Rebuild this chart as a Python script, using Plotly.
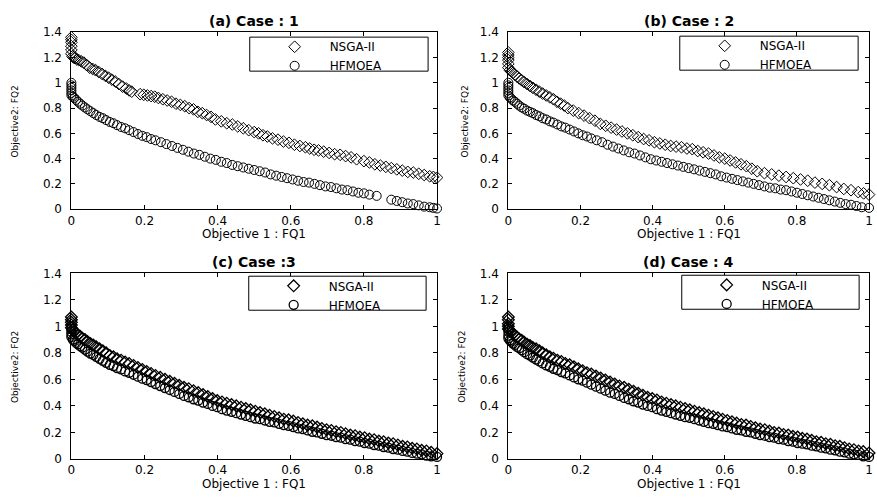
import plotly.graph_objects as go

# ---------------- data ----------------
# Case 1
A_NSGA_X = [0, 0, 0, 0, 0, 0, 0.003, 0.006, 0.01, 0.015, 0.02, 0.027, 0.034, 0.042, 0.05, 0.058, 0.066, 0.075,
            0.084, 0.093, 0.102, 0.111, 0.12, 0.13, 0.14, 0.15, 0.158, 0.165, 0.188, 0.198, 0.208, 0.218, 0.228,
            0.238, 0.25, 0.262, 0.274, 0.286, 0.298, 0.31, 0.322, 0.334, 0.346, 0.358, 0.37, 0.382, 0.394, 0.41,
            0.425, 0.44, 0.455, 0.47, 0.485, 0.5, 0.512, 0.524, 0.536, 0.55, 0.565, 0.58, 0.595, 0.61, 0.625, 0.64,
            0.652, 0.664, 0.676, 0.69, 0.705, 0.72, 0.735, 0.75, 0.765, 0.78, 0.8, 0.815, 0.83, 0.845, 0.86, 0.875,
            0.89, 0.905, 0.92, 0.935, 0.95, 0.965, 0.98, 0.99, 1.0]
A_NSGA_Y = [1.36, 1.34, 1.32, 1.29, 1.26, 1.23, 1.21, 1.20, 1.195, 1.185, 1.18, 1.17, 1.16, 1.14, 1.12, 1.11, 1.10,
            1.085, 1.07, 1.055, 1.04, 1.025, 1.01, 0.99, 0.97, 0.955, 0.94, 0.93, 0.91, 0.905, 0.90, 0.895, 0.89,
            0.88, 0.87, 0.86, 0.85, 0.835, 0.825, 0.815, 0.80, 0.79, 0.77, 0.76, 0.745, 0.73, 0.71, 0.695, 0.68,
            0.67, 0.655, 0.64, 0.625, 0.61, 0.60, 0.585, 0.575, 0.56, 0.55, 0.535, 0.525, 0.51, 0.50, 0.49, 0.48,
            0.47, 0.465, 0.455, 0.445, 0.435, 0.43, 0.42, 0.41, 0.395, 0.38, 0.37, 0.355, 0.345, 0.335, 0.325,
            0.315, 0.305, 0.295, 0.29, 0.28, 0.27, 0.26, 0.255, 0.25]
A_HF_X = [0, 0, 0, 0, 0, 0, 0.004, 0.008, 0.013, 0.018, 0.024, 0.03, 0.037, 0.044, 0.052, 0.06, 0.068, 0.077, 0.086,
          0.095, 0.105, 0.115, 0.125, 0.136, 0.147, 0.158, 0.17, 0.182, 0.194, 0.206, 0.218, 0.23, 0.245, 0.26,
          0.275, 0.29, 0.305, 0.32, 0.335, 0.35, 0.365, 0.38, 0.395, 0.41, 0.425, 0.44, 0.455, 0.47, 0.485, 0.5,
          0.515, 0.53, 0.545, 0.56, 0.575, 0.59, 0.605, 0.62, 0.635, 0.65, 0.665, 0.68, 0.695, 0.71, 0.725, 0.74,
          0.755, 0.77, 0.785, 0.8, 0.815, 0.835, 0.875, 0.89, 0.905, 0.92, 0.935, 0.95, 0.965, 0.98, 0.99, 1.0]
A_HF_Y = [1.0, 0.98, 0.96, 0.94, 0.92, 0.90, 0.89, 0.88, 0.865, 0.85, 0.835, 0.82, 0.805, 0.79, 0.775, 0.76, 0.745,
          0.73, 0.72, 0.705, 0.69, 0.68, 0.665, 0.65, 0.64, 0.625, 0.61, 0.595, 0.58, 0.57, 0.555, 0.545, 0.53,
          0.515, 0.50, 0.485, 0.47, 0.455, 0.44, 0.43, 0.415, 0.40, 0.39, 0.375, 0.365, 0.35, 0.34, 0.33, 0.32,
          0.31, 0.30, 0.29, 0.275, 0.265, 0.255, 0.245, 0.235, 0.225, 0.215, 0.21, 0.20, 0.19, 0.18, 0.175, 0.165,
          0.155, 0.15, 0.14, 0.13, 0.125, 0.115, 0.105, 0.075, 0.065, 0.055, 0.045, 0.04, 0.03, 0.02, 0.015,
          0.01, 0.005]

# Case 2
B_NSGA_X = [0, 0, 0, 0, 0, 0, 0.004, 0.008, 0.013, 0.018, 0.024, 0.03, 0.037, 0.044, 0.052, 0.06, 0.068, 0.077,
            0.086, 0.095, 0.105, 0.115, 0.125, 0.135, 0.145, 0.155, 0.165, 0.18, 0.195, 0.21, 0.225, 0.24, 0.255,
            0.27, 0.285, 0.3, 0.315, 0.33, 0.345, 0.36, 0.375, 0.39, 0.405, 0.42, 0.435, 0.45, 0.465, 0.48, 0.495,
            0.51, 0.525, 0.54, 0.555, 0.57, 0.585, 0.6, 0.615, 0.63, 0.645, 0.66, 0.675, 0.69, 0.71, 0.73, 0.75,
            0.77, 0.79, 0.81, 0.83, 0.85, 0.87, 0.89, 0.91, 0.93, 0.95, 0.97, 0.985, 1.0]
B_NSGA_Y = [1.24, 1.22, 1.20, 1.18, 1.15, 1.12, 1.10, 1.09, 1.08, 1.065, 1.05, 1.035, 1.02, 1.005, 0.99, 0.975, 0.96,
            0.945, 0.93, 0.915, 0.90, 0.885, 0.87, 0.85, 0.835, 0.82, 0.80, 0.78, 0.76, 0.74, 0.72, 0.70, 0.675,
            0.66, 0.645, 0.63, 0.615, 0.60, 0.585, 0.57, 0.555, 0.545, 0.53, 0.52, 0.51, 0.50, 0.495, 0.49, 0.48,
            0.475, 0.46, 0.45, 0.44, 0.425, 0.41, 0.40, 0.385, 0.37, 0.355, 0.34, 0.32, 0.30, 0.285, 0.275, 0.265,
            0.255, 0.245, 0.235, 0.225, 0.21, 0.20, 0.19, 0.175, 0.16, 0.15, 0.135, 0.125, 0.115]
B_HF_X = [0, 0, 0, 0, 0, 0, 0.004, 0.008, 0.013, 0.018, 0.024, 0.03, 0.037, 0.044, 0.052, 0.06, 0.068, 0.077, 0.086,
          0.095, 0.105, 0.115, 0.125, 0.136, 0.147, 0.158, 0.17, 0.182, 0.194, 0.206, 0.218, 0.23, 0.245, 0.26,
          0.275, 0.29, 0.305, 0.32, 0.335, 0.35, 0.365, 0.38, 0.395, 0.41, 0.425, 0.44, 0.455, 0.47, 0.485, 0.5,
          0.515, 0.53, 0.545, 0.56, 0.575, 0.59, 0.605, 0.62, 0.635, 0.65, 0.665, 0.68, 0.695, 0.71, 0.725, 0.74,
          0.755, 0.77, 0.785, 0.8, 0.815, 0.83, 0.845, 0.86, 0.875, 0.89, 0.905, 0.92, 0.935, 0.95, 0.965, 0.98, 1.0]
B_HF_Y = [1.0, 0.98, 0.96, 0.94, 0.92, 0.90, 0.885, 0.875, 0.86, 0.85, 0.835, 0.82, 0.805, 0.795, 0.78, 0.77, 0.76,
          0.745, 0.735, 0.72, 0.71, 0.695, 0.685, 0.67, 0.655, 0.645, 0.63, 0.615, 0.60, 0.585, 0.575, 0.56, 0.545,
          0.53, 0.51, 0.495, 0.48, 0.465, 0.45, 0.44, 0.425, 0.41, 0.395, 0.385, 0.375, 0.365, 0.355, 0.345,
          0.335, 0.325, 0.315, 0.305, 0.295, 0.285, 0.275, 0.26, 0.25, 0.24, 0.23, 0.22, 0.21, 0.20, 0.19, 0.18,
          0.17, 0.165, 0.155, 0.15, 0.14, 0.13, 0.12, 0.11, 0.10, 0.09, 0.08, 0.07, 0.06, 0.05, 0.04, 0.035,
          0.025, 0.015, 0.01]

# Cases 3 and 4 (dense fronts)
CD_X = [0, 0, 0, 0, 0, 0.004, 0.008, 0.013, 0.018, 0.024, 0.03, 0.037, 0.044, 0.052, 0.06, 0.068, 0.077, 0.086,
        0.095, 0.105, 0.115, 0.125, 0.136, 0.147, 0.158, 0.17, 0.182, 0.194, 0.206, 0.218, 0.23, 0.243, 0.256,
        0.269, 0.282, 0.295, 0.308, 0.321, 0.334, 0.347, 0.36, 0.373, 0.386, 0.399, 0.412, 0.425, 0.438, 0.451,
        0.464, 0.477, 0.49, 0.503, 0.516, 0.529, 0.542, 0.555, 0.568, 0.581, 0.594, 0.607, 0.62, 0.633, 0.646,
        0.659, 0.672, 0.685, 0.698, 0.711, 0.724, 0.737, 0.75, 0.763, 0.776, 0.789, 0.802, 0.815, 0.828, 0.841,
        0.854, 0.867, 0.88, 0.893, 0.906, 0.919, 0.932, 0.945, 0.958, 0.971, 0.984, 1.0]
C_NSGA_Y = [1.07, 1.05, 1.03, 1.01, 0.99, 0.975, 0.96, 0.95, 0.935, 0.925, 0.91, 0.90, 0.885, 0.87, 0.86, 0.845,
            0.83, 0.815, 0.80, 0.78, 0.77, 0.755, 0.745, 0.73, 0.72, 0.705, 0.69, 0.675, 0.66, 0.645, 0.63, 0.615,
            0.60, 0.585, 0.57, 0.555, 0.54, 0.53, 0.515, 0.50, 0.485, 0.47, 0.455, 0.44, 0.43, 0.42, 0.41, 0.40,
            0.39, 0.38, 0.37, 0.36, 0.35, 0.34, 0.33, 0.32, 0.31, 0.30, 0.295, 0.285, 0.275, 0.265, 0.255, 0.25,
            0.24, 0.23, 0.22, 0.215, 0.205, 0.20, 0.19, 0.18, 0.175, 0.165, 0.16, 0.15, 0.145, 0.135, 0.13, 0.12,
            0.115, 0.105, 0.095, 0.09, 0.08, 0.075, 0.065, 0.06, 0.05, 0.04]
C_HF_Y = [1.0, 0.98, 0.96, 0.94, 0.92, 0.90, 0.89, 0.875, 0.865, 0.85, 0.84, 0.825, 0.81, 0.795, 0.785, 0.77, 0.755,
          0.74, 0.725, 0.71, 0.70, 0.685, 0.675, 0.66, 0.65, 0.635, 0.62, 0.605, 0.595, 0.58, 0.565, 0.55, 0.535,
          0.52, 0.505, 0.49, 0.475, 0.465, 0.45, 0.44, 0.425, 0.415, 0.40, 0.39, 0.375, 0.365, 0.355, 0.345,
          0.335, 0.325, 0.315, 0.305, 0.30, 0.29, 0.28, 0.275, 0.265, 0.255, 0.25, 0.24, 0.23, 0.225, 0.215,
          0.205, 0.20, 0.19, 0.18, 0.175, 0.165, 0.16, 0.15, 0.145, 0.135, 0.13, 0.12, 0.115, 0.105, 0.10, 0.09,
          0.085, 0.075, 0.07, 0.06, 0.055, 0.045, 0.04, 0.035, 0.025, 0.02, 0.015]
D_NSGA_Y = [1.07, 1.05, 1.02, 1.00, 0.98, 0.97, 0.955, 0.945, 0.93, 0.92, 0.905, 0.895, 0.88, 0.865, 0.855, 0.84,
            0.83, 0.815, 0.80, 0.785, 0.77, 0.76, 0.745, 0.735, 0.72, 0.71, 0.695, 0.68, 0.665, 0.65, 0.64, 0.625,
            0.61, 0.595, 0.58, 0.565, 0.55, 0.54, 0.525, 0.51, 0.495, 0.48, 0.465, 0.455, 0.445, 0.43, 0.42, 0.41,
            0.40, 0.39, 0.38, 0.37, 0.36, 0.35, 0.34, 0.33, 0.32, 0.31, 0.30, 0.29, 0.28, 0.27, 0.26, 0.255, 0.245,
            0.235, 0.225, 0.22, 0.21, 0.20, 0.195, 0.185, 0.18, 0.17, 0.165, 0.155, 0.15, 0.14, 0.13, 0.125, 0.115,
            0.11, 0.10, 0.095, 0.085, 0.075, 0.07, 0.06, 0.055, 0.045]
D_HF_Y = [1.0, 0.98, 0.96, 0.93, 0.91, 0.895, 0.885, 0.87, 0.86, 0.845, 0.835, 0.82, 0.805, 0.79, 0.78, 0.765, 0.75,
          0.735, 0.72, 0.705, 0.695, 0.68, 0.67, 0.655, 0.645, 0.63, 0.615, 0.60, 0.59, 0.575, 0.56, 0.545, 0.53,
          0.515, 0.50, 0.49, 0.475, 0.46, 0.45, 0.435, 0.425, 0.41, 0.40, 0.39, 0.375, 0.365, 0.355, 0.345, 0.335,
          0.325, 0.315, 0.31, 0.30, 0.29, 0.28, 0.27, 0.265, 0.255, 0.245, 0.24, 0.23, 0.22, 0.215, 0.205, 0.20,
          0.19, 0.18, 0.175, 0.165, 0.16, 0.15, 0.145, 0.135, 0.13, 0.12, 0.115, 0.11, 0.10, 0.095, 0.085, 0.08,
          0.07, 0.065, 0.055, 0.05, 0.04, 0.035, 0.03, 0.02, 0.015]

SERIES_NAMES = ["NSGA-II", "HFMOEA"]
PANEL_TITLES = ["(a) Case : 1", "(b) Case : 2", "(c) Case :3", "(d) Case : 4"]
X_TITLE = "Objective 1 : FQ1"
Y_TITLE = "Objective2: FQ2"

DATA = [
    (A_NSGA_X, A_NSGA_Y, A_HF_X, A_HF_Y),
    (B_NSGA_X, B_NSGA_Y, B_HF_X, B_HF_Y),
    (CD_X, C_NSGA_Y, CD_X, C_HF_Y),
    (CD_X, D_NSGA_Y, CD_X, D_HF_Y),
]
for d in DATA:
    assert len(d[0]) == len(d[1]) and len(d[2]) == len(d[3]), [len(v) for v in d]

# ---------------- layout (pixels of the 877x498 page) ----------------
W, H = 877, 498
FONT = "DejaVu Sans"
PANELS = [
    dict(ax="", lg="legend", x=(68, 437), y=(26, 208), ytx=11, box=(248, 31, 428, 66), lw=1.0),
    dict(ax="2", lg="legend2", x=(509, 873), y=(26, 208), ytx=465, box=(682, 30, 862, 65), lw=1.0),
    dict(ax="3", lg="legend3", x=(68, 437), y=(274, 465), ytx=11, box=(247, 277, 426, 312), lw=1.3),
    dict(ax="4", lg="legend4", x=(509, 873), y=(274, 465), ytx=462, box=(684, 276, 863, 311), lw=1.3),
]

fig = go.Figure()
layout = dict(width=W, height=H, autosize=False, margin=dict(l=0, r=0, t=0, b=0),
              paper_bgcolor="white", plot_bgcolor="white", showlegend=True)
annotations, shapes = [], []

axis_common = dict(showgrid=False, zeroline=False, showline=True, linecolor="black", linewidth=1,
                   mirror="ticks", ticks="inside", ticklen=4, tickcolor="black", tickwidth=1,
                   tickfont=dict(family=FONT, size=12, color="black"), dtick=0.2, tick0=0)

for i, (p, d) in enumerate(zip(PANELS, DATA)):
    ax = p["ax"]
    xname, yname = "x" + ax, "y" + ax
    for j, (sx, sy, sym) in enumerate([(d[0], d[1], "diamond-open"), (d[2], d[3], "circle-open")]):
        fig.add_trace(go.Scatter(
            x=sx, y=sy, mode="markers", name=SERIES_NAMES[j], xaxis=xname, yaxis=yname,
            legend=p["lg"], cliponaxis=False, hoverinfo="skip",
            marker=dict(symbol=sym, size=9, color="black", line=dict(width=p["lw"], color="black"))))
    layout["xaxis" + ax] = dict(domain=[p["x"][0] / W, p["x"][1] / W], range=[0, 1], anchor=yname, **axis_common)
    layout["yaxis" + ax] = dict(domain=[1 - p["y"][1] / H, 1 - p["y"][0] / H], range=[0, 1.4], anchor=xname,
                                ticklabelstandoff=6, **axis_common)
    cx = (p["x"][0] + p["x"][1]) / 2
    annotations.append(dict(text="<b>" + PANEL_TITLES[i] + "</b>", x=cx / W, y=1 - (p["y"][0] - 12) / H,
                            xref="paper", yref="paper", xanchor="center", yanchor="middle", showarrow=False,
                            font=dict(family=FONT, size=14, color="black")))
    annotations.append(dict(text=X_TITLE, x=cx / W, y=1 - (p["y"][1] + 26) / H,
                            xref="paper", yref="paper", xanchor="center", yanchor="middle", showarrow=False,
                            font=dict(family=FONT, size=12, color="black")))
    annotations.append(dict(text=Y_TITLE, x=p["ytx"] / W, y=1 - ((p["y"][0] + p["y"][1]) / 2 + 1) / H,
                            xref="paper", yref="paper", xanchor="center", yanchor="middle", showarrow=False,
                            textangle=-90, font=dict(family=FONT, size=9, color="black")))
    bl, bt, br, bb = p["box"]
    shapes.append(dict(type="rect", xref="paper", yref="paper", x0=bl / W, x1=br / W, y0=1 - bb / H, y1=1 - bt / H,
                       line=dict(color="black", width=1), fillcolor="white", layer="above"))
    layout[p["lg"]] = dict(x=(bl + 10) / W, y=1 - (bt - 5) / H, xanchor="left", yanchor="top",
                           bgcolor="rgba(0,0,0,0)", borderwidth=0, itemwidth=60, tracegroupgap=0,
                           font=dict(family=FONT, size=12, color="black"))

layout["annotations"] = annotations
layout["shapes"] = shapes
fig.update_layout(**layout)
fig.write_html("out.html", config={"displayModeBar": False},
               post_script="document.body.style.margin='0px';document.body.style.overflow='hidden';")
